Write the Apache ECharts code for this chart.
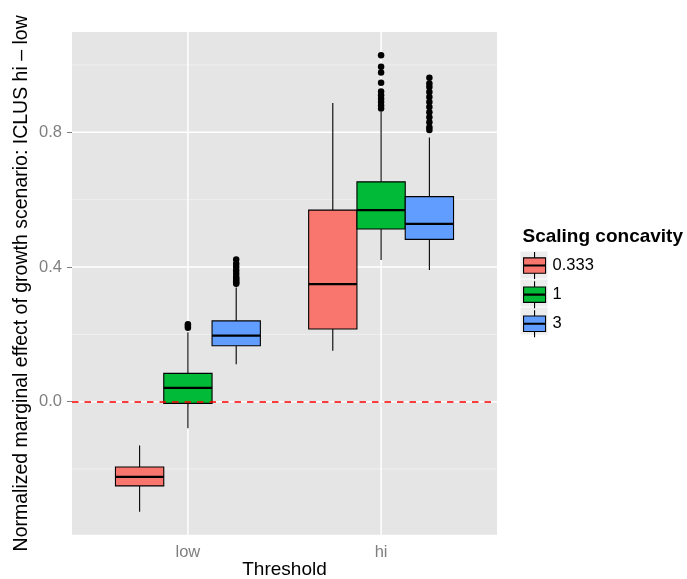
<!DOCTYPE html>
<html><head><meta charset="utf-8">
<script src="https://cdn.jsdelivr.net/npm/echarts@6/dist/echarts.min.js"></script>
<style>html,body{margin:0;padding:0;background:#fff}#c{width:687px;height:579px}</style>
</head><body><div id="c"></div>
<script>
// ---- data ----
const thresholds = ['low', 'hi'];
const concavities = ['0.333', '1', '3'];
// [lower whisker, Q1, median, Q3, upper whisker] for thresholds low, hi
const box0333 = [[-0.327, -0.250, -0.223, -0.194, -0.130], [0.151, 0.216, 0.349, 0.569, 0.887]];
const box1    = [[-0.079, -0.005, 0.041, 0.084, 0.206], [0.421, 0.513, 0.569, 0.653, 0.861]];
const box3    = [[0.111, 0.166, 0.196, 0.240, 0.339], [0.391, 0.482, 0.528, 0.609, 0.785]];
// outliers for thresholds low, hi
const out0333 = [[], []];
const out1 = [[0.230, 0.225, 0.220], [1.029, 0.995, 0.978, 0.947, 0.921, 0.910, 0.900, 0.890, 0.880, 0.871]];
const out3 = [[0.422, 0.410, 0.400, 0.390, 0.380, 0.370, 0.365, 0.360, 0.355, 0.350],
              [0.962, 0.945, 0.935, 0.920, 0.905, 0.890, 0.875, 0.860, 0.845, 0.830, 0.815, 0.807]];
const yLabelTicks = [0, 0.4, 0.8];
const yMinorTicks = [-0.2, 0.2, 0.6, 1.0];
const refLine = [0];

// ---- styling ----
const FONT = "'Liberation Sans', Arial, Helvetica, sans-serif";
const COLORS = ['#F8766D', '#00BA38', '#619CFF'];
const DODGE = 0.75, N = concavities.length, SLOT = DODGE / N;
const catPos = thresholds.map((t, i) => i + 1);
const LEG_LEFT = 523, LEG_TOP = 251.5, LEG_STEP = 28;

const boxSets = [box0333, box1, box3];
const outSets = [out0333, out1, out3];

function xFor(ti, ci) { return catPos[ti] - DODGE / 2 + SLOT * (ci + 0.5); }

function renderBox(params, api) {
  const x = api.value(0);
  const pLo = api.coord([x, api.value(1)]);
  const pQ1 = api.coord([x, api.value(2)]);
  const pMd = api.coord([x, api.value(3)]);
  const pQ3 = api.coord([x, api.value(4)]);
  const pHi = api.coord([x, api.value(5)]);
  const w = api.size([SLOT, 0])[0];
  const cx = pMd[0], left = cx - w / 2;
  return { type: 'group', children: [
    { type: 'line', shape: { x1: cx, y1: pHi[1], x2: cx, y2: pQ3[1] }, style: { stroke: '#000', lineWidth: 1.1 } },
    { type: 'line', shape: { x1: cx, y1: pQ1[1], x2: cx, y2: pLo[1] }, style: { stroke: '#000', lineWidth: 1.1 } },
    { type: 'rect', shape: { x: left, y: pQ3[1], width: w, height: pQ1[1] - pQ3[1] },
      style: { fill: api.visual('color'), stroke: '#000', lineWidth: 1.1 } },
    { type: 'line', shape: { x1: left, y1: pMd[1], x2: left + w, y2: pMd[1] }, style: { stroke: '#000', lineWidth: 2.3 } }
  ]};
}

function renderGrid(params, api) {
  const cs = params.coordSys;
  const v = api.value(0), kind = api.value(1);
  if (kind === 2) {
    const x = api.coord([v, 0])[0];
    return { type: 'line', shape: { x1: x, y1: cs.y, x2: x, y2: cs.y + cs.height }, style: { stroke: '#FFFFFF', lineWidth: 1.5 } };
  }
  const y = api.coord([1, v])[1];
  return { type: 'line', shape: { x1: cs.x, y1: y, x2: cs.x + cs.width, y2: y },
    style: kind === 0 ? { stroke: '#FFFFFF', lineWidth: 1.5 } : { stroke: '#F2F2F2', lineWidth: 0.8 } };
}

// legend key backgrounds (grey squares behind the legend icons)
function renderKeyBg(params, api) {
  const i = api.value(0);
  return { type: 'rect', shape: { x: LEG_LEFT - 2.5, y: LEG_TOP + i * LEG_STEP, width: 27, height: 27 },
    style: { fill: '#EDEDED' } };
}

const gridData = []
  .concat(yLabelTicks.map(v => [v, 0]))
  .concat(yMinorTicks.map(v => [v, 1]))
  .concat(catPos.map(v => [v, 2]));

const series = [{
  type: 'custom', name: 'grid', renderItem: renderGrid, data: gridData, z: 1, silent: true,
  encode: { x: 0, y: 0 }
}, {
  type: 'custom', name: 'keybg', coordinateSystem: 'none', renderItem: renderKeyBg, silent: true, z: 1,
  data: concavities.map((c, i) => [i])
}];
concavities.forEach((c, ci) => {
  series.push({
    type: 'custom', name: c, renderItem: renderBox, z: 3,
    itemStyle: { color: COLORS[ci] },
    encode: { x: 0, y: [1, 2, 3, 4, 5] },
    data: boxSets[ci].map((s, ti) => [xFor(ti, ci)].concat(s))
  });
});
concavities.forEach((c, ci) => {
  const pts = [];
  outSets[ci].forEach((arr, ti) => arr.forEach(v => pts.push([xFor(ti, ci), v])));
  series.push({
    type: 'scatter', name: c, data: pts, symbol: 'circle', symbolSize: 6.5, z: 4,
    itemStyle: { color: '#000', opacity: 1 }, silent: true
  });
});
// reference line at 0 (markLine)
series.push({
  type: 'scatter', name: 'ref', data: [], z: 6, silent: true,
  markLine: {
    silent: true, symbol: ['none', 'none'], label: { show: false }, z: 6,
    lineStyle: { color: '#FF0000', width: 1.5, type: [6.5, 6], opacity: 1 },
    emphasis: { disabled: true },
    data: refLine.map(v => ({ yAxis: v }))
  }
});

const chart = echarts.init(document.getElementById('c'), null, { renderer: 'canvas' });
chart.setOption({
  animation: false,
  textStyle: { fontFamily: FONT },
  grid: { left: 72, right: 190, top: 32, bottom: 44.3, show: true, backgroundColor: '#E5E5E5', borderWidth: 0,
    containLabel: false, outerBoundsMode: 'none' },
  title: { text: 'Scaling concavity', left: 522.5, top: 227.5, padding: 0,
    textStyle: { fontSize: 19, fontWeight: 'bold', color: '#000', fontFamily: FONT } },
  legend: {
    data: concavities, orient: 'vertical', left: LEG_LEFT, top: LEG_TOP, padding: 0,
    itemWidth: 22, itemHeight: 27, itemGap: LEG_STEP - 27, z: 5,
    icon: 'path://M11,0L11,5.8M0,5.8L22,5.8L22,21.2L0,21.2ZM0,13L22,13L22,14L0,14ZM11,21.2L11,27',
    itemStyle: { borderColor: '#000', borderWidth: 1.1 },
    textStyle: { fontSize: 16.5, color: '#000', fontFamily: FONT, padding: [0, 0, 0, 2] },
    selectedMode: false
  },
  xAxis: {
    type: 'value', min: 0.4, max: 2.6,
    name: 'Threshold', nameLocation: 'middle', nameGap: 26, nameMoveOverlap: false,
    nameTextStyle: { fontSize: 19, color: '#000', fontFamily: FONT },
    axisLine: { show: false }, splitLine: { show: false },
    axisTick: { show: true, customValues: catPos, length: 5, lineStyle: { color: '#7F7F7F', width: 1 } },
    axisLabel: { customValues: catPos, formatter: v => thresholds[Math.round(v) - 1], color: '#7F7F7F', fontSize: 16.5, margin: 9, fontFamily: FONT }
  },
  yAxis: {
    type: 'value', min: -0.395, max: 1.098,
    name: 'Normalized marginal effect of growth scenario: ICLUS hi \u2013 low', nameLocation: 'middle', nameGap: 40, nameMoveOverlap: false,
    nameTextStyle: { fontSize: 19.5, color: '#000', fontFamily: FONT },
    axisLine: { show: false }, splitLine: { show: false },
    axisTick: { show: true, customValues: yLabelTicks, length: 5, lineStyle: { color: '#7F7F7F', width: 1 } },
    axisLabel: { customValues: yLabelTicks, formatter: v => v.toFixed(1), color: '#7F7F7F', fontSize: 16.5, margin: 10, fontFamily: FONT }
  },
  series: series
});
</script></body></html>
